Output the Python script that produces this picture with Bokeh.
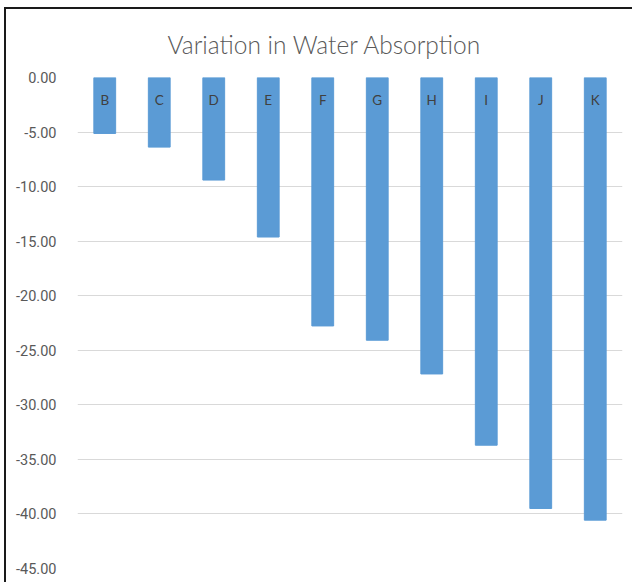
from bokeh.plotting import figure
from bokeh.models import Range1d, FactorRange, FixedTicker, NumeralTickFormatter, ColumnDataSource
from bokeh.embed import file_html
from bokeh.resources import INLINE
from bokeh.core.properties import value

categories = ["B", "C", "D", "E", "F", "G", "H", "I", "J", "K"]
absorption = [-5.13, -6.38, -9.40, -14.62, -22.77, -24.08, -27.17, -33.70, -39.50, -40.57]
y_ticks = [0, -5, -10, -15, -20, -25, -30, -35, -40, -45]

src = ColumnDataSource(dict(cat=categories, val=absorption, top=[0] * len(categories)))

p = figure(width=628, height=575, output_backend="svg", toolbar_location=None,
           x_range=FactorRange(*categories, range_padding=0), y_range=Range1d(-45, 0),
           min_border_left=71, min_border_top=68, min_border_right=12, min_border_bottom=16,
           title="Variation in Water Absorption")
p.styles = {"border-left": "2px solid #1a1a1a", "border-top": "2px solid #1a1a1a",
            "margin-left": "4px", "margin-top": "7px"}

p.vbar(x="cat", top="top", bottom="val", width=0.4, source=src,
       fill_color="#5B9BD5", line_color="#5B9BD5")
p.text(x="cat", y="top", text="cat", source=src, y_offset=22,
       text_align="center", text_baseline="middle",
       text_font=value("Lato"), text_font_size="13.5px", text_color="#404040")

p.title.align = "left"
p.title.offset = 90
p.title.text_font = "Lato Light, Lato"
p.title.text_font_size = "24.5px"
p.title.text_font_style = "normal"
p.title.text_color = "#595959"
p.title.standoff = 37

p.xaxis.visible = False
p.yaxis.ticker = FixedTicker(ticks=y_ticks)
p.yaxis.formatter = NumeralTickFormatter(format="0.00")
p.yaxis.axis_line_color = None
p.yaxis.major_tick_line_color = None
p.yaxis.minor_tick_line_color = None
p.yaxis.major_label_text_font = "Roboto"
p.yaxis.major_label_text_font_size = "14.5px"
p.yaxis.major_label_text_color = "#595959"
p.yaxis.major_label_standoff = 15

p.xgrid.grid_line_color = None
p.ygrid.grid_line_color = "#D9D9D9"
p.ygrid.grid_line_width = 1
p.outline_line_color = None

open("out.html", "w").write(file_html(p, INLINE))
